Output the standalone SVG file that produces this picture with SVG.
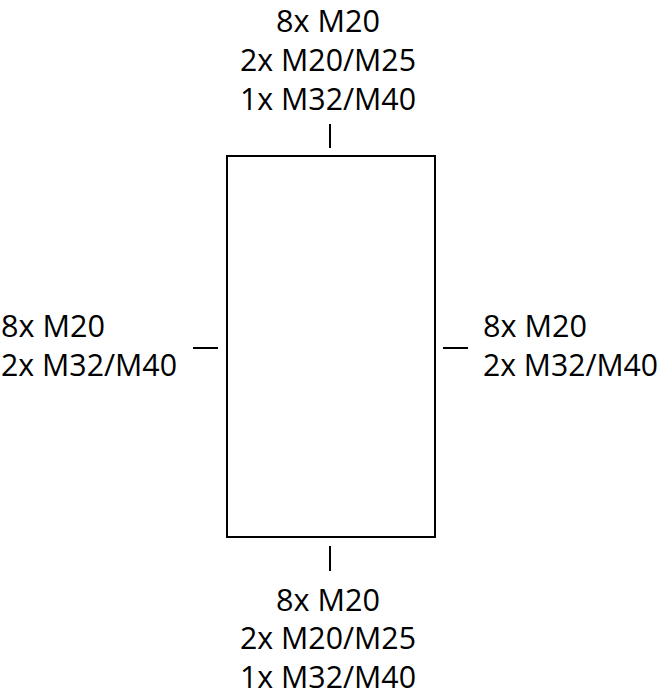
<svg xmlns="http://www.w3.org/2000/svg" width="663" height="700" viewBox="0 0 663 700">
<style>
text{font-family:"Open Sans","Noto Sans","DejaVu Sans",sans-serif;font-size:31px;fill:#000}
.c{text-anchor:middle}
.ln{stroke:#000;stroke-width:2;fill:none}
</style>
<rect width="663" height="700" fill="#fff"/>
<g id="box"><rect class="ln" x="227" y="156" width="208" height="381"/></g>
<g id="connectors">
<line class="ln" x1="330" y1="124" x2="330" y2="148"/>
<line class="ln" x1="330" y1="546" x2="330" y2="571"/>
<line class="ln" x1="193" y1="348" x2="218" y2="348"/>
<line class="ln" x1="443" y1="348" x2="468" y2="348"/>
</g>
<g id="top"><text class="c" x="328" y="32" textLength="104" lengthAdjust="spacingAndGlyphs">8x M20</text><text class="c" x="328" y="71" textLength="176" lengthAdjust="spacingAndGlyphs">2x M20/M25</text><text class="c" x="328" y="110" textLength="176" lengthAdjust="spacingAndGlyphs">1x M32/M40</text></g>
<g id="bottom"><text class="c" x="328" y="611" textLength="104" lengthAdjust="spacingAndGlyphs">8x M20</text><text class="c" x="328" y="649" textLength="176" lengthAdjust="spacingAndGlyphs">2x M20/M25</text><text class="c" x="328" y="688" textLength="176" lengthAdjust="spacingAndGlyphs">1x M32/M40</text></g>
<g id="left"><text x="1" y="337" textLength="104" lengthAdjust="spacingAndGlyphs">8x M20</text><text x="1" y="376" textLength="176" lengthAdjust="spacingAndGlyphs">2x M32/M40</text></g>
<g id="right"><text x="483" y="337" textLength="104" lengthAdjust="spacingAndGlyphs">8x M20</text><text x="483" y="376" textLength="175" lengthAdjust="spacingAndGlyphs">2x M32/M40</text></g>
</svg>
